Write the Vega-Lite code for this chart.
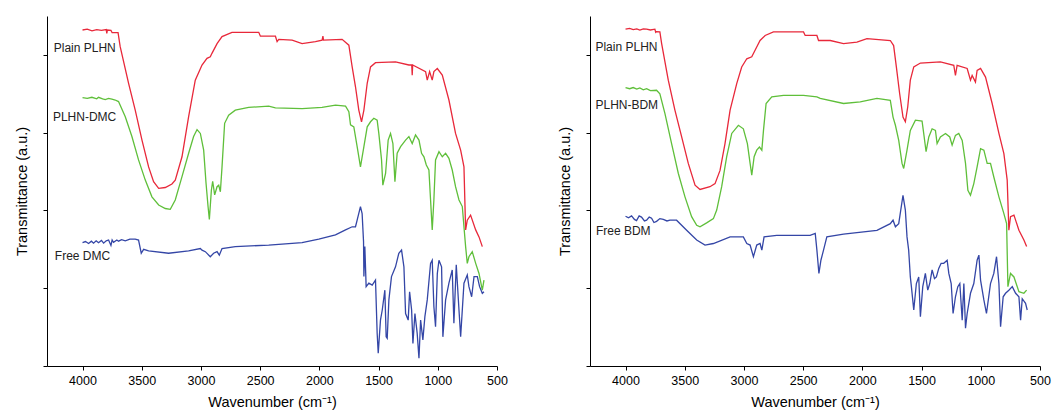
{
"$schema": "https://vega.github.io/schema/vega-lite/v6.json",
"padding": {"left": 14, "top": 16, "right": 6, "bottom": 2},
"bounds": "flush",
"spacing": 93,
"resolve": {"scale": {"color": "independent"}},
"datasets": {
"left": [
{"s":"Plain PLHN","wn":4000,"t":8.64},{"s":"Plain PLHN","wn":3960,"t":8.66},{"s":"Plain PLHN","wn":3920,"t":8.62},{"s":"Plain PLHN","wn":3880,"t":8.65},{"s":"Plain PLHN","wn":3840,"t":8.63},{"s":"Plain PLHN","wn":3800,"t":8.65},{"s":"Plain PLHN","wn":3795,"t":8.55},{"s":"Plain PLHN","wn":3790,"t":8.64},{"s":"Plain PLHN","wn":3760,"t":8.63},{"s":"Plain PLHN","wn":3750,"t":8.57},{"s":"Plain PLHN","wn":3700,"t":8.57},{"s":"Plain PLHN","wn":3682,"t":8.21},{"s":"Plain PLHN","wn":3611,"t":7.27},{"s":"Plain PLHN","wn":3555,"t":6.58},{"s":"Plain PLHN","wn":3498,"t":5.81},{"s":"Plain PLHN","wn":3442,"t":5.12},{"s":"Plain PLHN","wn":3400,"t":4.74},{"s":"Plain PLHN","wn":3357,"t":4.57},{"s":"Plain PLHN","wn":3301,"t":4.59},{"s":"Plain PLHN","wn":3245,"t":4.68},{"s":"Plain PLHN","wn":3217,"t":4.78},{"s":"Plain PLHN","wn":3160,"t":5.38},{"s":"Plain PLHN","wn":3104,"t":6.41},{"s":"Plain PLHN","wn":3048,"t":7.35},{"s":"Plain PLHN","wn":2991,"t":7.74},{"s":"Plain PLHN","wn":2949,"t":7.91},{"s":"Plain PLHN","wn":2921,"t":7.95},{"s":"Plain PLHN","wn":2907,"t":8.04},{"s":"Plain PLHN","wn":2864,"t":8.29},{"s":"Plain PLHN","wn":2822,"t":8.47},{"s":"Plain PLHN","wn":2738,"t":8.58},{"s":"Plain PLHN","wn":2512,"t":8.58},{"s":"Plain PLHN","wn":2498,"t":8.48},{"s":"Plain PLHN","wn":2371,"t":8.48},{"s":"Plain PLHN","wn":2357,"t":8.34},{"s":"Plain PLHN","wn":2343,"t":8.40},{"s":"Plain PLHN","wn":2230,"t":8.38},{"s":"Plain PLHN","wn":2146,"t":8.29},{"s":"Plain PLHN","wn":2033,"t":8.34},{"s":"Plain PLHN","wn":1977,"t":8.38},{"s":"Plain PLHN","wn":1970,"t":8.48},{"s":"Plain PLHN","wn":1965,"t":8.38},{"s":"Plain PLHN","wn":1808,"t":8.40},{"s":"Plain PLHN","wn":1751,"t":8.25},{"s":"Plain PLHN","wn":1723,"t":7.69},{"s":"Plain PLHN","wn":1695,"t":7.18},{"s":"Plain PLHN","wn":1667,"t":6.58},{"s":"Plain PLHN","wn":1644,"t":6.28},{"s":"Plain PLHN","wn":1624,"t":6.58},{"s":"Plain PLHN","wn":1596,"t":7.27},{"s":"Plain PLHN","wn":1568,"t":7.69},{"s":"Plain PLHN","wn":1526,"t":7.80},{"s":"Plain PLHN","wn":1357,"t":7.82},{"s":"Plain PLHN","wn":1244,"t":7.74},{"s":"Plain PLHN","wn":1220,"t":7.74},{"s":"Plain PLHN","wn":1216,"t":7.48},{"s":"Plain PLHN","wn":1212,"t":7.74},{"s":"Plain PLHN","wn":1103,"t":7.57},{"s":"Plain PLHN","wn":1089,"t":7.35},{"s":"Plain PLHN","wn":1069,"t":7.57},{"s":"Plain PLHN","wn":1047,"t":7.35},{"s":"Plain PLHN","wn":1033,"t":7.57},{"s":"Plain PLHN","wn":1004,"t":7.65},{"s":"Plain PLHN","wn":962,"t":7.48},{"s":"Plain PLHN","wn":906,"t":6.84},{"s":"Plain PLHN","wn":850,"t":5.98},{"s":"Plain PLHN","wn":807,"t":5.55},{"s":"Plain PLHN","wn":779,"t":5.12},{"s":"Plain PLHN","wn":765,"t":3.50},{"s":"Plain PLHN","wn":751,"t":3.75},{"s":"Plain PLHN","wn":723,"t":3.88},{"s":"Plain PLHN","wn":680,"t":3.50},{"s":"Plain PLHN","wn":652,"t":3.32},{"s":"Plain PLHN","wn":624,"t":3.07},
{"s":"PLHN-DMC","wn":4000,"t":6.90},{"s":"PLHN-DMC","wn":3960,"t":6.88},{"s":"PLHN-DMC","wn":3921,"t":6.91},{"s":"PLHN-DMC","wn":3880,"t":6.87},{"s":"PLHN-DMC","wn":3865,"t":6.91},{"s":"PLHN-DMC","wn":3830,"t":6.87},{"s":"PLHN-DMC","wn":3808,"t":6.85},{"s":"PLHN-DMC","wn":3780,"t":6.88},{"s":"PLHN-DMC","wn":3752,"t":6.86},{"s":"PLHN-DMC","wn":3724,"t":6.84},{"s":"PLHN-DMC","wn":3696,"t":6.80},{"s":"PLHN-DMC","wn":3639,"t":6.41},{"s":"PLHN-DMC","wn":3583,"t":5.90},{"s":"PLHN-DMC","wn":3527,"t":5.30},{"s":"PLHN-DMC","wn":3470,"t":4.78},{"s":"PLHN-DMC","wn":3414,"t":4.35},{"s":"PLHN-DMC","wn":3357,"t":4.14},{"s":"PLHN-DMC","wn":3301,"t":4.05},{"s":"PLHN-DMC","wn":3259,"t":4.03},{"s":"PLHN-DMC","wn":3217,"t":4.27},{"s":"PLHN-DMC","wn":3160,"t":4.87},{"s":"PLHN-DMC","wn":3104,"t":5.47},{"s":"PLHN-DMC","wn":3062,"t":5.90},{"s":"PLHN-DMC","wn":3033,"t":6.08},{"s":"PLHN-DMC","wn":3005,"t":5.98},{"s":"PLHN-DMC","wn":2977,"t":5.55},{"s":"PLHN-DMC","wn":2957,"t":4.70},{"s":"PLHN-DMC","wn":2940,"t":4.10},{"s":"PLHN-DMC","wn":2929,"t":3.77},{"s":"PLHN-DMC","wn":2912,"t":4.52},{"s":"PLHN-DMC","wn":2901,"t":4.75},{"s":"PLHN-DMC","wn":2884,"t":4.40},{"s":"PLHN-DMC","wn":2864,"t":4.61},{"s":"PLHN-DMC","wn":2850,"t":4.65},{"s":"PLHN-DMC","wn":2836,"t":4.48},{"s":"PLHN-DMC","wn":2822,"t":5.12},{"s":"PLHN-DMC","wn":2800,"t":6.24},{"s":"PLHN-DMC","wn":2766,"t":6.45},{"s":"PLHN-DMC","wn":2710,"t":6.58},{"s":"PLHN-DMC","wn":2597,"t":6.65},{"s":"PLHN-DMC","wn":2428,"t":6.68},{"s":"PLHN-DMC","wn":2371,"t":6.64},{"s":"PLHN-DMC","wn":2146,"t":6.62},{"s":"PLHN-DMC","wn":1977,"t":6.65},{"s":"PLHN-DMC","wn":1864,"t":6.71},{"s":"PLHN-DMC","wn":1779,"t":6.68},{"s":"PLHN-DMC","wn":1751,"t":6.54},{"s":"PLHN-DMC","wn":1737,"t":6.20},{"s":"PLHN-DMC","wn":1709,"t":6.15},{"s":"PLHN-DMC","wn":1681,"t":5.64},{"s":"PLHN-DMC","wn":1653,"t":5.12},{"s":"PLHN-DMC","wn":1624,"t":5.64},{"s":"PLHN-DMC","wn":1596,"t":6.15},{"s":"PLHN-DMC","wn":1568,"t":6.28},{"s":"PLHN-DMC","wn":1540,"t":6.37},{"s":"PLHN-DMC","wn":1512,"t":6.32},{"s":"PLHN-DMC","wn":1498,"t":5.98},{"s":"PLHN-DMC","wn":1475,"t":5.30},{"s":"PLHN-DMC","wn":1464,"t":4.65},{"s":"PLHN-DMC","wn":1441,"t":4.95},{"s":"PLHN-DMC","wn":1419,"t":5.81},{"s":"PLHN-DMC","wn":1399,"t":5.98},{"s":"PLHN-DMC","wn":1379,"t":5.72},{"s":"PLHN-DMC","wn":1362,"t":4.74},{"s":"PLHN-DMC","wn":1343,"t":5.47},{"s":"PLHN-DMC","wn":1314,"t":5.64},{"s":"PLHN-DMC","wn":1272,"t":5.81},{"s":"PLHN-DMC","wn":1244,"t":5.90},{"s":"PLHN-DMC","wn":1216,"t":5.72},{"s":"PLHN-DMC","wn":1188,"t":5.94},{"s":"PLHN-DMC","wn":1159,"t":5.81},{"s":"PLHN-DMC","wn":1137,"t":5.47},{"s":"PLHN-DMC","wn":1117,"t":5.38},{"s":"PLHN-DMC","wn":1097,"t":5.17},{"s":"PLHN-DMC","wn":1075,"t":5.04},{"s":"PLHN-DMC","wn":1061,"t":4.27},{"s":"PLHN-DMC","wn":1047,"t":3.50},{"s":"PLHN-DMC","wn":1033,"t":4.27},{"s":"PLHN-DMC","wn":1019,"t":5.30},{"s":"PLHN-DMC","wn":990,"t":5.51},{"s":"PLHN-DMC","wn":962,"t":5.38},{"s":"PLHN-DMC","wn":934,"t":5.47},{"s":"PLHN-DMC","wn":906,"t":5.34},{"s":"PLHN-DMC","wn":878,"t":5.04},{"s":"PLHN-DMC","wn":850,"t":4.61},{"s":"PLHN-DMC","wn":821,"t":4.27},{"s":"PLHN-DMC","wn":793,"t":4.10},{"s":"PLHN-DMC","wn":779,"t":3.58},{"s":"PLHN-DMC","wn":765,"t":3.07},{"s":"PLHN-DMC","wn":751,"t":2.64},{"s":"PLHN-DMC","wn":737,"t":2.81},{"s":"PLHN-DMC","wn":709,"t":2.94},{"s":"PLHN-DMC","wn":680,"t":2.64},{"s":"PLHN-DMC","wn":652,"t":2.38},{"s":"PLHN-DMC","wn":624,"t":1.95},{"s":"PLHN-DMC","wn":610,"t":2.21},
{"s":"Free DMC","wn":4000,"t":3.17},{"s":"Free DMC","wn":3975,"t":3.20},{"s":"Free DMC","wn":3949,"t":3.15},{"s":"Free DMC","wn":3925,"t":3.21},{"s":"Free DMC","wn":3907,"t":3.16},{"s":"Free DMC","wn":3885,"t":3.22},{"s":"Free DMC","wn":3865,"t":3.17},{"s":"Free DMC","wn":3840,"t":3.23},{"s":"Free DMC","wn":3822,"t":3.16},{"s":"Free DMC","wn":3800,"t":3.22},{"s":"Free DMC","wn":3780,"t":3.24},{"s":"Free DMC","wn":3760,"t":3.10},{"s":"Free DMC","wn":3750,"t":3.24},{"s":"Free DMC","wn":3738,"t":3.18},{"s":"Free DMC","wn":3710,"t":3.24},{"s":"Free DMC","wn":3696,"t":3.21},{"s":"Free DMC","wn":3670,"t":3.25},{"s":"Free DMC","wn":3639,"t":3.22},{"s":"Free DMC","wn":3600,"t":3.26},{"s":"Free DMC","wn":3555,"t":3.26},{"s":"Free DMC","wn":3527,"t":3.24},{"s":"Free DMC","wn":3504,"t":2.90},{"s":"Free DMC","wn":3484,"t":3.00},{"s":"Free DMC","wn":3442,"t":2.96},{"s":"Free DMC","wn":3273,"t":2.90},{"s":"Free DMC","wn":3104,"t":2.96},{"s":"Free DMC","wn":3005,"t":3.02},{"s":"Free DMC","wn":2991,"t":2.98},{"s":"Free DMC","wn":2963,"t":2.94},{"s":"Free DMC","wn":2921,"t":2.81},{"s":"Free DMC","wn":2893,"t":2.90},{"s":"Free DMC","wn":2864,"t":2.94},{"s":"Free DMC","wn":2845,"t":2.85},{"s":"Free DMC","wn":2822,"t":3.02},{"s":"Free DMC","wn":2710,"t":3.07},{"s":"Free DMC","wn":2428,"t":3.11},{"s":"Free DMC","wn":2146,"t":3.17},{"s":"Free DMC","wn":2005,"t":3.26},{"s":"Free DMC","wn":1864,"t":3.37},{"s":"Free DMC","wn":1779,"t":3.50},{"s":"Free DMC","wn":1723,"t":3.58},{"s":"Free DMC","wn":1695,"t":3.58},{"s":"Free DMC","wn":1681,"t":3.75},{"s":"Free DMC","wn":1653,"t":4.10},{"s":"Free DMC","wn":1639,"t":3.92},{"s":"Free DMC","wn":1627,"t":3.20},{"s":"Free DMC","wn":1624,"t":2.30},{"s":"Free DMC","wn":1616,"t":3.07},{"s":"Free DMC","wn":1605,"t":2.04},{"s":"Free DMC","wn":1582,"t":2.13},{"s":"Free DMC","wn":1554,"t":2.08},{"s":"Free DMC","wn":1526,"t":2.21},{"s":"Free DMC","wn":1512,"t":0.84},{"s":"Free DMC","wn":1503,"t":0.33},{"s":"Free DMC","wn":1484,"t":1.18},{"s":"Free DMC","wn":1469,"t":1.44},{"s":"Free DMC","wn":1447,"t":1.95},{"s":"Free DMC","wn":1436,"t":0.75},{"s":"Free DMC","wn":1427,"t":0.71},{"s":"Free DMC","wn":1413,"t":1.70},{"s":"Free DMC","wn":1391,"t":2.30},{"s":"Free DMC","wn":1357,"t":2.55},{"s":"Free DMC","wn":1329,"t":2.90},{"s":"Free DMC","wn":1306,"t":2.98},{"s":"Free DMC","wn":1286,"t":2.55},{"s":"Free DMC","wn":1272,"t":1.35},{"s":"Free DMC","wn":1250,"t":1.18},{"s":"Free DMC","wn":1238,"t":1.91},{"s":"Free DMC","wn":1221,"t":1.44},{"s":"Free DMC","wn":1210,"t":0.58},{"s":"Free DMC","wn":1193,"t":1.35},{"s":"Free DMC","wn":1174,"t":0.84},{"s":"Free DMC","wn":1159,"t":0.20},{"s":"Free DMC","wn":1145,"t":1.18},{"s":"Free DMC","wn":1126,"t":0.67},{"s":"Free DMC","wn":1109,"t":1.27},{"s":"Free DMC","wn":1089,"t":1.70},{"s":"Free DMC","wn":1061,"t":2.64},{"s":"Free DMC","wn":1047,"t":2.72},{"s":"Free DMC","wn":1033,"t":1.53},{"s":"Free DMC","wn":1019,"t":1.01},{"s":"Free DMC","wn":1004,"t":2.38},{"s":"Free DMC","wn":990,"t":2.72},{"s":"Free DMC","wn":968,"t":2.55},{"s":"Free DMC","wn":957,"t":0.75},{"s":"Free DMC","wn":934,"t":1.70},{"s":"Free DMC","wn":906,"t":2.13},{"s":"Free DMC","wn":878,"t":2.47},{"s":"Free DMC","wn":864,"t":1.10},{"s":"Free DMC","wn":844,"t":2.60},{"s":"Free DMC","wn":821,"t":1.44},{"s":"Free DMC","wn":807,"t":0.75},{"s":"Free DMC","wn":779,"t":2.13},{"s":"Free DMC","wn":751,"t":2.34},{"s":"Free DMC","wn":737,"t":2.04},{"s":"Free DMC","wn":714,"t":1.78},{"s":"Free DMC","wn":694,"t":2.30},{"s":"Free DMC","wn":666,"t":2.30},{"s":"Free DMC","wn":647,"t":2.04},{"s":"Free DMC","wn":624,"t":1.87},{"s":"Free DMC","wn":610,"t":1.91}
],
"right": [
{"s":"Plain PLHN","wn":4000,"t":8.66},{"s":"Plain PLHN","wn":3965,"t":8.68},{"s":"Plain PLHN","wn":3935,"t":8.65},{"s":"Plain PLHN","wn":3905,"t":8.67},{"s":"Plain PLHN","wn":3879,"t":8.64},{"s":"Plain PLHN","wn":3850,"t":8.67},{"s":"Plain PLHN","wn":3822,"t":8.66},{"s":"Plain PLHN","wn":3790,"t":8.64},{"s":"Plain PLHN","wn":3752,"t":8.66},{"s":"Plain PLHN","wn":3745,"t":8.58},{"s":"Plain PLHN","wn":3738,"t":8.60},{"s":"Plain PLHN","wn":3710,"t":8.59},{"s":"Plain PLHN","wn":3695,"t":8.29},{"s":"Plain PLHN","wn":3639,"t":7.35},{"s":"Plain PLHN","wn":3583,"t":6.58},{"s":"Plain PLHN","wn":3526,"t":5.89},{"s":"Plain PLHN","wn":3470,"t":5.21},{"s":"Plain PLHN","wn":3413,"t":4.65},{"s":"Plain PLHN","wn":3371,"t":4.54},{"s":"Plain PLHN","wn":3287,"t":4.61},{"s":"Plain PLHN","wn":3244,"t":4.69},{"s":"Plain PLHN","wn":3202,"t":5.03},{"s":"Plain PLHN","wn":3160,"t":5.72},{"s":"Plain PLHN","wn":3117,"t":6.58},{"s":"Plain PLHN","wn":3061,"t":7.26},{"s":"Plain PLHN","wn":3019,"t":7.69},{"s":"Plain PLHN","wn":2976,"t":7.90},{"s":"Plain PLHN","wn":2934,"t":7.95},{"s":"Plain PLHN","wn":2906,"t":8.12},{"s":"Plain PLHN","wn":2864,"t":8.37},{"s":"Plain PLHN","wn":2821,"t":8.50},{"s":"Plain PLHN","wn":2751,"t":8.59},{"s":"Plain PLHN","wn":2497,"t":8.59},{"s":"Plain PLHN","wn":2483,"t":8.50},{"s":"Plain PLHN","wn":2384,"t":8.50},{"s":"Plain PLHN","wn":2370,"t":8.37},{"s":"Plain PLHN","wn":2271,"t":8.37},{"s":"Plain PLHN","wn":2159,"t":8.29},{"s":"Plain PLHN","wn":2046,"t":8.33},{"s":"Plain PLHN","wn":1961,"t":8.42},{"s":"Plain PLHN","wn":1764,"t":8.37},{"s":"Plain PLHN","wn":1736,"t":8.24},{"s":"Plain PLHN","wn":1713,"t":7.69},{"s":"Plain PLHN","wn":1685,"t":7.00},{"s":"Plain PLHN","wn":1657,"t":6.40},{"s":"Plain PLHN","wn":1637,"t":6.28},{"s":"Plain PLHN","wn":1617,"t":6.66},{"s":"Plain PLHN","wn":1595,"t":7.35},{"s":"Plain PLHN","wn":1566,"t":7.69},{"s":"Plain PLHN","wn":1510,"t":7.79},{"s":"Plain PLHN","wn":1341,"t":7.82},{"s":"Plain PLHN","wn":1228,"t":7.73},{"s":"Plain PLHN","wn":1214,"t":7.47},{"s":"Plain PLHN","wn":1200,"t":7.73},{"s":"Plain PLHN","wn":1115,"t":7.65},{"s":"Plain PLHN","wn":1087,"t":7.35},{"s":"Plain PLHN","wn":1073,"t":7.47},{"s":"Plain PLHN","wn":1045,"t":7.30},{"s":"Plain PLHN","wn":1031,"t":7.60},{"s":"Plain PLHN","wn":1002,"t":7.65},{"s":"Plain PLHN","wn":960,"t":7.43},{"s":"Plain PLHN","wn":904,"t":6.75},{"s":"Plain PLHN","wn":847,"t":5.98},{"s":"Plain PLHN","wn":805,"t":5.46},{"s":"Plain PLHN","wn":777,"t":4.78},{"s":"Plain PLHN","wn":763,"t":3.49},{"s":"Plain PLHN","wn":749,"t":3.84},{"s":"Plain PLHN","wn":720,"t":3.88},{"s":"Plain PLHN","wn":678,"t":3.49},{"s":"Plain PLHN","wn":636,"t":3.24},{"s":"Plain PLHN","wn":613,"t":3.07},
{"s":"PLHN-BDM","wn":4000,"t":7.16},{"s":"PLHN-BDM","wn":3965,"t":7.13},{"s":"PLHN-BDM","wn":3935,"t":7.16},{"s":"PLHN-BDM","wn":3905,"t":7.12},{"s":"PLHN-BDM","wn":3879,"t":7.15},{"s":"PLHN-BDM","wn":3850,"t":7.10},{"s":"PLHN-BDM","wn":3822,"t":7.13},{"s":"PLHN-BDM","wn":3790,"t":7.08},{"s":"PLHN-BDM","wn":3738,"t":7.09},{"s":"PLHN-BDM","wn":3710,"t":7.00},{"s":"PLHN-BDM","wn":3667,"t":6.49},{"s":"PLHN-BDM","wn":3611,"t":5.72},{"s":"PLHN-BDM","wn":3554,"t":4.95},{"s":"PLHN-BDM","wn":3498,"t":4.35},{"s":"PLHN-BDM","wn":3442,"t":3.84},{"s":"PLHN-BDM","wn":3399,"t":3.62},{"s":"PLHN-BDM","wn":3371,"t":3.58},{"s":"PLHN-BDM","wn":3315,"t":3.68},{"s":"PLHN-BDM","wn":3258,"t":3.79},{"s":"PLHN-BDM","wn":3230,"t":4.01},{"s":"PLHN-BDM","wn":3188,"t":4.61},{"s":"PLHN-BDM","wn":3146,"t":5.38},{"s":"PLHN-BDM","wn":3103,"t":5.98},{"s":"PLHN-BDM","wn":3047,"t":6.19},{"s":"PLHN-BDM","wn":3005,"t":6.10},{"s":"PLHN-BDM","wn":2971,"t":5.72},{"s":"PLHN-BDM","wn":2948,"t":5.21},{"s":"PLHN-BDM","wn":2934,"t":4.91},{"s":"PLHN-BDM","wn":2914,"t":5.38},{"s":"PLHN-BDM","wn":2892,"t":5.55},{"s":"PLHN-BDM","wn":2869,"t":5.63},{"s":"PLHN-BDM","wn":2849,"t":5.55},{"s":"PLHN-BDM","wn":2835,"t":6.06},{"s":"PLHN-BDM","wn":2813,"t":6.75},{"s":"PLHN-BDM","wn":2765,"t":6.92},{"s":"PLHN-BDM","wn":2666,"t":6.96},{"s":"PLHN-BDM","wn":2497,"t":6.96},{"s":"PLHN-BDM","wn":2384,"t":6.92},{"s":"PLHN-BDM","wn":2356,"t":6.88},{"s":"PLHN-BDM","wn":2159,"t":6.75},{"s":"PLHN-BDM","wn":2018,"t":6.79},{"s":"PLHN-BDM","wn":1877,"t":6.88},{"s":"PLHN-BDM","wn":1764,"t":6.83},{"s":"PLHN-BDM","wn":1741,"t":6.40},{"s":"PLHN-BDM","wn":1721,"t":6.19},{"s":"PLHN-BDM","wn":1693,"t":5.80},{"s":"PLHN-BDM","wn":1665,"t":5.21},{"s":"PLHN-BDM","wn":1651,"t":5.08},{"s":"PLHN-BDM","wn":1623,"t":5.55},{"s":"PLHN-BDM","wn":1595,"t":6.06},{"s":"PLHN-BDM","wn":1552,"t":6.32},{"s":"PLHN-BDM","wn":1496,"t":6.30},{"s":"PLHN-BDM","wn":1482,"t":5.98},{"s":"PLHN-BDM","wn":1462,"t":5.51},{"s":"PLHN-BDM","wn":1439,"t":5.89},{"s":"PLHN-BDM","wn":1411,"t":6.10},{"s":"PLHN-BDM","wn":1383,"t":6.06},{"s":"PLHN-BDM","wn":1369,"t":5.72},{"s":"PLHN-BDM","wn":1341,"t":5.89},{"s":"PLHN-BDM","wn":1298,"t":5.98},{"s":"PLHN-BDM","wn":1262,"t":5.89},{"s":"PLHN-BDM","wn":1242,"t":5.68},{"s":"PLHN-BDM","wn":1214,"t":5.93},{"s":"PLHN-BDM","wn":1186,"t":5.98},{"s":"PLHN-BDM","wn":1157,"t":5.80},{"s":"PLHN-BDM","wn":1129,"t":5.21},{"s":"PLHN-BDM","wn":1109,"t":4.52},{"s":"PLHN-BDM","wn":1087,"t":4.39},{"s":"PLHN-BDM","wn":1059,"t":4.69},{"s":"PLHN-BDM","wn":1031,"t":5.12},{"s":"PLHN-BDM","wn":1002,"t":5.59},{"s":"PLHN-BDM","wn":974,"t":5.55},{"s":"PLHN-BDM","wn":946,"t":5.21},{"s":"PLHN-BDM","wn":918,"t":5.21},{"s":"PLHN-BDM","wn":890,"t":4.86},{"s":"PLHN-BDM","wn":847,"t":4.35},{"s":"PLHN-BDM","wn":805,"t":3.92},{"s":"PLHN-BDM","wn":782,"t":3.66},{"s":"PLHN-BDM","wn":771,"t":2.04},{"s":"PLHN-BDM","wn":749,"t":2.38},{"s":"PLHN-BDM","wn":720,"t":2.29},{"s":"PLHN-BDM","wn":678,"t":1.91},{"s":"PLHN-BDM","wn":636,"t":1.87},{"s":"PLHN-BDM","wn":613,"t":1.95},
{"s":"Free BDM","wn":4000,"t":3.85},{"s":"Free BDM","wn":3975,"t":3.81},{"s":"Free BDM","wn":3949,"t":3.86},{"s":"Free BDM","wn":3925,"t":3.77},{"s":"Free BDM","wn":3907,"t":3.74},{"s":"Free BDM","wn":3885,"t":3.86},{"s":"Free BDM","wn":3865,"t":3.83},{"s":"Free BDM","wn":3840,"t":3.73},{"s":"Free BDM","wn":3822,"t":3.75},{"s":"Free BDM","wn":3800,"t":3.83},{"s":"Free BDM","wn":3780,"t":3.80},{"s":"Free BDM","wn":3760,"t":3.69},{"s":"Free BDM","wn":3738,"t":3.72},{"s":"Free BDM","wn":3710,"t":3.79},{"s":"Free BDM","wn":3681,"t":3.77},{"s":"Free BDM","wn":3650,"t":3.73},{"s":"Free BDM","wn":3625,"t":3.75},{"s":"Free BDM","wn":3569,"t":3.75},{"s":"Free BDM","wn":3484,"t":3.49},{"s":"Free BDM","wn":3399,"t":3.24},{"s":"Free BDM","wn":3329,"t":3.11},{"s":"Free BDM","wn":3258,"t":3.15},{"s":"Free BDM","wn":3117,"t":3.32},{"s":"Free BDM","wn":3005,"t":3.32},{"s":"Free BDM","wn":2976,"t":3.15},{"s":"Free BDM","wn":2948,"t":3.11},{"s":"Free BDM","wn":2920,"t":2.81},{"s":"Free BDM","wn":2892,"t":3.11},{"s":"Free BDM","wn":2864,"t":3.15},{"s":"Free BDM","wn":2849,"t":2.98},{"s":"Free BDM","wn":2830,"t":3.32},{"s":"Free BDM","wn":2723,"t":3.36},{"s":"Free BDM","wn":2441,"t":3.36},{"s":"Free BDM","wn":2398,"t":3.41},{"s":"Free BDM","wn":2384,"t":2.98},{"s":"Free BDM","wn":2367,"t":2.38},{"s":"Free BDM","wn":2350,"t":2.72},{"s":"Free BDM","wn":2328,"t":2.98},{"s":"Free BDM","wn":2300,"t":3.32},{"s":"Free BDM","wn":2159,"t":3.39},{"s":"Free BDM","wn":1877,"t":3.49},{"s":"Free BDM","wn":1764,"t":3.66},{"s":"Free BDM","wn":1741,"t":3.75},{"s":"Free BDM","wn":1721,"t":3.58},{"s":"Free BDM","wn":1693,"t":3.66},{"s":"Free BDM","wn":1657,"t":4.39},{"s":"Free BDM","wn":1637,"t":4.01},{"s":"Free BDM","wn":1623,"t":3.32},{"s":"Free BDM","wn":1609,"t":2.98},{"s":"Free BDM","wn":1595,"t":2.29},{"s":"Free BDM","wn":1586,"t":2.04},{"s":"Free BDM","wn":1566,"t":1.44},{"s":"Free BDM","wn":1544,"t":2.12},{"s":"Free BDM","wn":1524,"t":2.29},{"s":"Free BDM","wn":1510,"t":1.27},{"s":"Free BDM","wn":1490,"t":2.04},{"s":"Free BDM","wn":1468,"t":2.38},{"s":"Free BDM","wn":1448,"t":1.95},{"s":"Free BDM","wn":1431,"t":2.12},{"s":"Free BDM","wn":1411,"t":2.47},{"s":"Free BDM","wn":1391,"t":2.25},{"s":"Free BDM","wn":1375,"t":2.29},{"s":"Free BDM","wn":1355,"t":2.51},{"s":"Free BDM","wn":1335,"t":2.64},{"s":"Free BDM","wn":1313,"t":2.64},{"s":"Free BDM","wn":1284,"t":2.72},{"s":"Free BDM","wn":1270,"t":2.38},{"s":"Free BDM","wn":1250,"t":2.12},{"s":"Free BDM","wn":1234,"t":1.35},{"s":"Free BDM","wn":1214,"t":1.78},{"s":"Free BDM","wn":1194,"t":2.04},{"s":"Free BDM","wn":1177,"t":2.12},{"s":"Free BDM","wn":1157,"t":1.18},{"s":"Free BDM","wn":1143,"t":2.12},{"s":"Free BDM","wn":1129,"t":0.97},{"s":"Free BDM","wn":1115,"t":1.35},{"s":"Free BDM","wn":1087,"t":1.87},{"s":"Free BDM","wn":1059,"t":2.12},{"s":"Free BDM","wn":1031,"t":2.72},{"s":"Free BDM","wn":1016,"t":2.85},{"s":"Free BDM","wn":1002,"t":2.21},{"s":"Free BDM","wn":974,"t":1.70},{"s":"Free BDM","wn":952,"t":1.35},{"s":"Free BDM","wn":918,"t":2.12},{"s":"Free BDM","wn":890,"t":2.38},{"s":"Free BDM","wn":867,"t":2.81},{"s":"Free BDM","wn":847,"t":2.12},{"s":"Free BDM","wn":833,"t":1.01},{"s":"Free BDM","wn":811,"t":1.78},{"s":"Free BDM","wn":791,"t":1.87},{"s":"Free BDM","wn":763,"t":1.95},{"s":"Free BDM","wn":734,"t":2.04},{"s":"Free BDM","wn":706,"t":1.87},{"s":"Free BDM","wn":678,"t":1.78},{"s":"Free BDM","wn":664,"t":1.18},{"s":"Free BDM","wn":650,"t":1.73},{"s":"Free BDM","wn":622,"t":1.61},{"s":"Free BDM","wn":608,"t":1.44}
],
"leftLabels": [
{"label":"Plain PLHN","wn":4243,"t":8.17},{"label":"PLHN-DMC","wn":4250,"t":6.40},{"label":"Free DMC","wn":4234,"t":2.83}
],
"rightLabels": [
{"label":"Plain PLHN","wn":4254,"t":8.20},{"label":"PLHN-BDM","wn":4254,"t":6.71},{"label":"Free BDM","wn":4250,"t":3.47}
]
},
"hconcat": [
{
"width": 450, "height": 350,
"layer": [
{"data": {"name": "left"},
 "mark": {"type": "line", "strokeWidth": 1.3},
 "encoding": {
  "x": {"field": "wn", "type": "quantitative", "scale": {"domain": [500, 4300], "reverse": true, "nice": false, "zero": false},
        "axis": {"title": "Wavenumber (cm⁻¹)", "values": [4250,4000,3750,3500,3250,3000,2750,2500,2250,2000,1750,1500,1250,1000,750,500], "labelExpr": "datum.value % 500 === 0 ? format(datum.value, 'd') : ''", "labelOverlap": false, "labelFlush": false, "labelPadding": 4, "titlePadding": 9}},
  "y": {"field": "t", "type": "quantitative", "scale": {"domain": [0, 9], "nice": false, "zero": false},
        "axis": {"title": "Transmittance (a.u.)", "values": [0,1,2,3,4,5,6,7,8,9], "labels": false, "titlePadding": 13}},
  "color": {"field": "s", "type": "nominal", "scale": {"domain": ["Plain PLHN", "PLHN-DMC", "Free DMC"], "range": ["#e8283a", "#5fbf3a", "#3446a6"]}, "legend": null}
 }},
{"data": {"name": "leftLabels"},
 "mark": {"type": "text", "align": "left", "baseline": "middle", "fontSize": 12, "color": "#222222", "font": "Liberation Sans"},
 "encoding": {"x": {"field": "wn", "type": "quantitative"}, "y": {"field": "t", "type": "quantitative"}, "text": {"field": "label"}}}
]
},
{
"width": 450, "height": 350,
"layer": [
{"data": {"name": "right"},
 "mark": {"type": "line", "strokeWidth": 1.3},
 "encoding": {
  "x": {"field": "wn", "type": "quantitative", "scale": {"domain": [500, 4300], "reverse": true, "nice": false, "zero": false},
        "axis": {"title": "Wavenumber (cm⁻¹)", "values": [4250,4000,3750,3500,3250,3000,2750,2500,2250,2000,1750,1500,1250,1000,750,500], "labelExpr": "datum.value % 500 === 0 ? format(datum.value, 'd') : ''", "labelOverlap": false, "labelFlush": false, "labelPadding": 4, "titlePadding": 9}},
  "y": {"field": "t", "type": "quantitative", "scale": {"domain": [0, 9], "nice": false, "zero": false},
        "axis": {"title": "Transmittance (a.u.)", "values": [0,1,2,3,4,5,6,7,8,9], "labels": false, "titlePadding": 13}},
  "color": {"field": "s", "type": "nominal", "scale": {"domain": ["Plain PLHN", "PLHN-BDM", "Free BDM"], "range": ["#e8283a", "#5fbf3a", "#3446a6"]}, "legend": null}
 }},
{"data": {"name": "rightLabels"},
 "mark": {"type": "text", "align": "left", "baseline": "middle", "fontSize": 12, "color": "#222222", "font": "Liberation Sans"},
 "encoding": {"x": {"field": "wn", "type": "quantitative"}, "y": {"field": "t", "type": "quantitative"}, "text": {"field": "label"}}}
]
}
],
"config": {
 "view": {"stroke": null},
 "background": "#ffffff",
 "axis": {"grid": false, "domainColor": "#000000", "tickColor": "#000000", "labelColor": "#000000", "titleColor": "#000000",
          "labelFont": "Liberation Sans", "titleFont": "Liberation Sans", "titleFontWeight": "normal",
          "labelFontSize": 12.5, "titleFontSize": 14.5, "tickSize": 4, "domainWidth": 1, "tickWidth": 1}
}
}
